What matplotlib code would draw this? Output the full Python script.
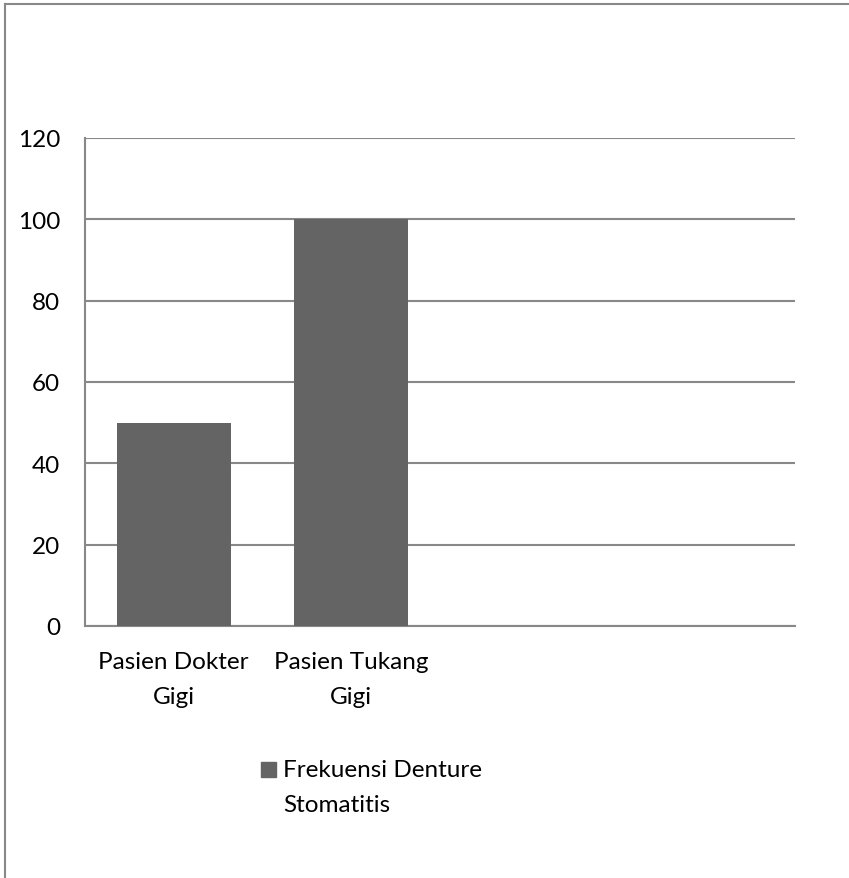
import matplotlib
matplotlib.use("Agg")
import matplotlib.pyplot as plt
from matplotlib.lines import Line2D
from matplotlib.patches import Rectangle

categories = ["Pasien Dokter\nGigi", "Pasien Tukang\nGigi", "", ""]
values = [50, 100, 0, 0]
series_name = "Frekuensi Denture\nStomatitis"
yticks = [0, 20, 40, 60, 80, 100, 120]

plt.rcParams['font.family'] = ['Lato', 'DejaVu Sans']
W, H = 849, 879
FS = 17.5
BAR_COLOR = "#646464"
fig = plt.figure(figsize=(W/100, H/100), dpi=100)
ax = fig.add_axes([85/W, 1-627/H, (795-85)/W, (627-139)/H])

x = list(range(len(categories)))
ax.bar(x, values, width=0.64, color=BAR_COLOR, zorder=3)
ax.set_xlim(-0.5, len(categories)-0.5)
ax.set_ylim(0, 120)
ax.set_yticks(yticks)
ax.set_yticklabels([str(v) for v in yticks], fontsize=FS)
ax.set_xticks(x)
ax.set_xticklabels(categories, fontsize=FS, linespacing=1.85)
ax.tick_params(axis='both', length=0)
ax.tick_params(axis='y', pad=18)
ax.tick_params(axis='x', pad=18)
ax.grid(axis='y', color="#888888", linewidth=1.5, zorder=0)
for s in ['top', 'right']:
    ax.spines[s].set_visible(False)
for s in ['left', 'bottom']:
    ax.spines[s].set_color("#888888")
    ax.spines[s].set_linewidth(1.5)

# legend (handle aligned with first line of label)
fig.add_artist(Rectangle((261/W, 1-778/H), 15/W, 15/H, transform=fig.transFigure,
                         color=BAR_COLOR))
fig.text(283/W, 1-760/H, series_name, fontsize=FS, va='top', ha='left',
         linespacing=1.85)

fig.add_artist(Line2D([4.5/W, 4.5/W], [0, 1-5/H], color="#888888", linewidth=1.5))
fig.add_artist(Line2D([4.5/W, 1], [1-5/H, 1-5/H], color="#888888", linewidth=1.5))

fig.savefig("out.png", dpi=100)
